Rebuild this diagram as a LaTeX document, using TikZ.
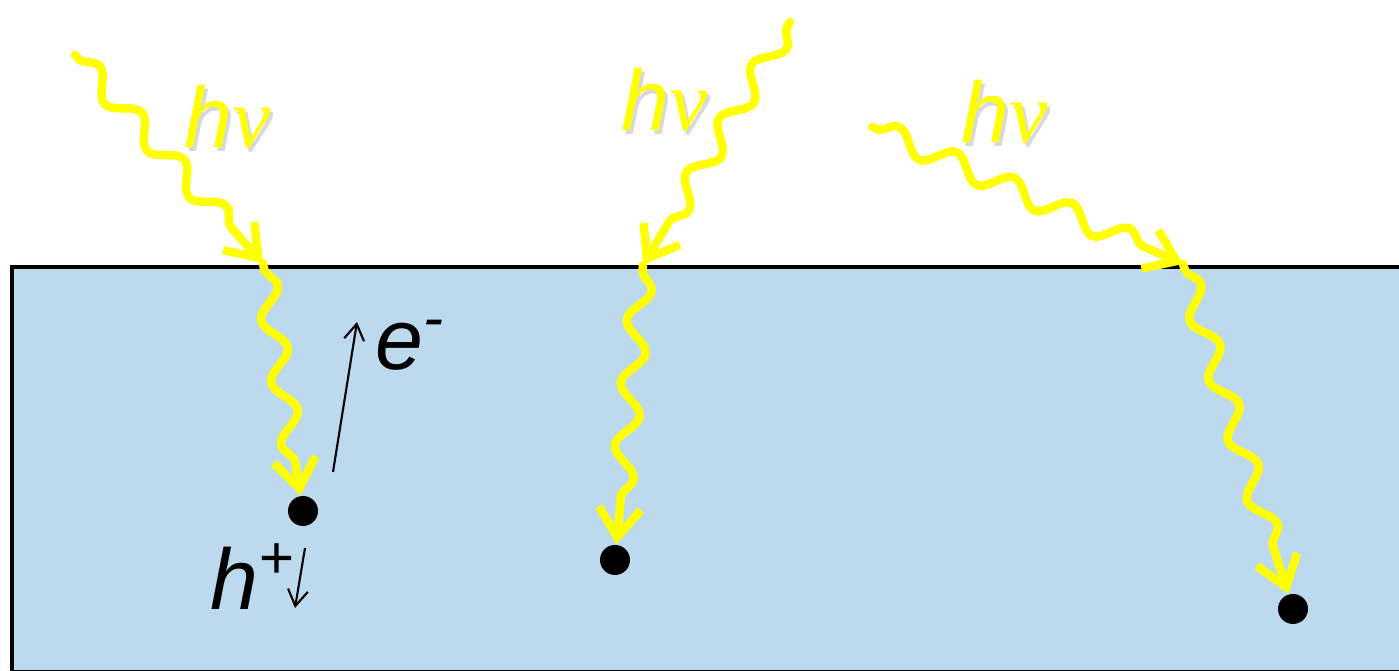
\documentclass[tikz,border=0pt]{standalone}
\usepackage{fontspec}
\setmainfont{Liberation Sans}
\newfontfamily\nufont{Liberation Serif}
\usepackage{tikz}
\usetikzlibrary{arrows.meta,decorations.pathmorphing}
\definecolor{bulk}{RGB}{189,217,238}
\definecolor{ray}{RGB}{255,255,0}

\begin{document}
\begin{tikzpicture}[
    photon/.style={draw=ray,line width=2.4pt,line cap=round,decorate,
      decoration={snake,amplitude=1.1mm,segment length=6.3mm,pre length=0.5mm,post length=2.8mm},
      -{Straight Barb[length=2.9mm,width=4.2mm]}},
    carrier/.style={draw,line width=0.6pt,-{Straight Barb[length=1.6mm,width=2mm]}},
    dot/.style={circle,fill=black,inner sep=0pt,minimum size=3mm},
    hnu/.style={text=ray,font=\fontsize{24.5}{29}\selectfont\itshape},
    lbl/.style={font=\fontsize{24.5}{29}\selectfont\itshape,anchor=base west,inner sep=0pt}]
  \clip (0,0) rectangle (13.99,6.71);
  \draw[line width=1.2pt,fill=bulk] (0.12,-0.01) rectangle (14.3,4.04);
  % light sources and entry points on the surface
  \coordinate (s1) at (0.75,6.16); \coordinate (s2) at (7.90,6.49); \coordinate (s3) at (8.72,5.44);
  \coordinate (i1) at (2.63,4.08); \coordinate (i2) at (6.43,4.06); \coordinate (i3) at (11.83,4.07);
  % absorption sites
  \node[dot] (d1) at (3.03,1.60) {}; \node[dot] (d2) at (6.15,1.11) {}; \node[dot] (d3) at (12.93,0.62) {};
  \foreach \n in {1,2,3} {\draw[photon] (s\n)--(i\n); \draw[photon] (i\n)--(d\n);}
  \foreach \n/\x/\y in {1/2.28/5.54,2/6.65/5.71,3/10.05/5.59} {
    \node[hnu,text=black,opacity=0.15] (sh\n) at (\x+0.025,\y-0.035) {h{\nufont ν}};
    \node[hnu] (hv\n) at (\x,\y) {h{\nufont ν}};}
  % electron-hole pair
  \coordinate (ea) at (3.33,1.99); \coordinate (eb) at (3.57,3.49);
  \coordinate (ha) at (3.05,1.23); \coordinate (hb) at (2.95,0.63);
  \draw[carrier] (ea)--(eb); \draw[carrier] (ha)--(hb);
  \node[lbl] (el) at (3.75,3.01) {e\textsuperscript{-}};
  \node[lbl] (ho) at (2.10,0.61) {h\textsuperscript{+}};
\end{tikzpicture}
\end{document}
